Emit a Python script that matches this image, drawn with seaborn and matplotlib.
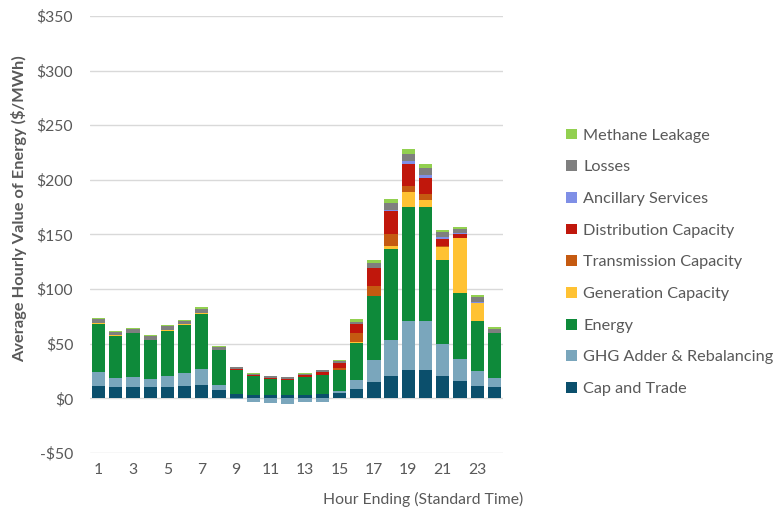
import matplotlib
matplotlib.use("Agg")
import matplotlib.pyplot as plt
import numpy as np
import seaborn as sns
from matplotlib.ticker import FuncFormatter

# Data, $/MWh per hour ending 1..24
hours = [str(h) for h in range(1, 25)]

cap_and_trade = [11, 10, 10, 10, 10.5, 11, 12.5, 8, 4, 3.5, 3, 3, 3.5, 4, 5, 9,
                 15, 20.5, 26, 26, 20, 15.5, 11.5, 10]
ghg_adder = [13, 9, 9.5, 7.5, 10, 12.5, 14.5, 4.5, -1, -3, -4, -5, -3.5, -3, 2, 7.5,
             20.5, 33, 45, 45, 30, 20.5, 13.5, 9]
energy = [44, 38.5, 40, 36, 41.5, 44, 50.5, 31.5, 22, 17, 15, 13.5, 16, 17, 19, 34.5,
          58, 83, 104.5, 104.5, 76.5, 60, 46, 40.5]
generation_cap = [0.5, 0.3, 0.3, 0.3, 0.3, 0.3, 0.5, 0.3, 0, 0, 0, 0, 0, 0, 0, 0.5,
                  0, 2.5, 13.5, 6, 12, 50.5, 16, 0.5]
transmission_cap = [0, 0, 0, 0, 0, 0, 0, 0, 0, 0, 0, 0, 0, 0.5, 2, 8,
                    9.5, 11, 5.5, 5.5, 1, 0.5, 0, 0]
distribution_cap = [0, 0, 0, 0, 0, 0, 0, 0, 0.5, 0.5, 0.5, 1.5, 1.5, 2.5, 4.5, 8.5,
                    16, 21, 20, 14.5, 6, 3.5, 0.5, 0]
ancillary = [0, 0, 0, 0, 0, 0, 0, 0, 0, 0, 0, 0, 0, 0, 0, 0.3,
             0.5, 1, 2.5, 3, 2.5, 0.5, 0.3, 0]
losses = [4, 3, 3.5, 3, 3.5, 3, 4, 3, 2, 1.5, 1.5, 1.5, 1.5, 1.5, 2, 2,
          4, 7, 7, 6.5, 4, 4, 5, 3.5]
methane = [1, 1, 1, 1, 1, 1, 1.5, 1, 0.5, 0.5, 0.3, 0.3, 0.5, 0.5, 1, 2,
           3, 3, 4, 3.5, 2.5, 2, 2, 2]

series = [
    ("Cap and Trade", cap_and_trade, "#0B4F6C"),
    ("GHG Adder & Rebalancing", ghg_adder, "#7AA6BC"),
    ("Energy", energy, "#0E8A3A"),
    ("Generation Capacity", generation_cap, "#FFC233"),
    ("Transmission Capacity", transmission_cap, "#C55A11"),
    ("Distribution Capacity", distribution_cap, "#C0170C"),
    ("Ancillary Services", ancillary, "#7F8FE6"),
    ("Losses", losses, "#7F7F7F"),
    ("Methane Leakage", methane, "#92D050"),
]

sns.set_style("white")
plt.rcParams["font.family"] = ["Lato", "DejaVu Sans"]
text_color = "#595959"

fig = plt.figure(figsize=(7.75, 5.13), dpi=100)
ax = fig.add_axes([0.116, 0.117, 0.533, 0.852])

# stack positives upward and negatives downward
pos_base = np.zeros(len(hours))
neg_base = np.zeros(len(hours))
for name, vals, col in series:
    vals = np.array(vals, dtype=float)
    bottom = np.where(vals >= 0, pos_base, neg_base)
    sns.barplot(x=hours, y=vals, bottom=bottom, color=col, saturation=1,
                width=0.77, linewidth=0, errorbar=None, label=name, ax=ax, zorder=3)
    pos_base += np.clip(vals, 0, None)
    neg_base += np.clip(vals, None, 0)

if ax.get_legend() is not None:
    ax.get_legend().remove()

ax.set_xlim(-0.5, 23.5)
ax.set_ylim(-50, 350)
ax.set_yticks(np.arange(-50, 351, 50))
ax.yaxis.set_major_formatter(FuncFormatter(
    lambda v, p: "-${:.0f}".format(abs(v)) if v < 0 else "${:.0f}".format(v)))
ax.set_xticks(range(0, 24, 2))
ax.set_xticklabels(hours[::2])
ax.grid(axis="y", color="#D9D9D9", linewidth=1, zorder=0)
ax.grid(axis="x", visible=False)
for s in ax.spines.values():
    s.set_visible(False)
ax.tick_params(axis="both", length=0, labelsize=11.3, colors=text_color)
ax.tick_params(axis="y", pad=12)
ax.tick_params(axis="x", pad=7)

ax.set_ylabel("Average Hourly Value of Energy ($/MWh)", fontsize=11.8,
              fontweight="bold", color=text_color)
ax.yaxis.set_label_coords(-0.152, 0.56)
ax.set_xlabel("Hour Ending (Standard Time)", fontsize=11.3, color=text_color)
ax.xaxis.set_label_coords(0.806, -0.088)

handles, labels = ax.get_legend_handles_labels()
leg = fig.legend(handles[::-1], labels[::-1], loc="upper left",
                 bbox_to_anchor=(0.722, 0.762), frameon=False, fontsize=11.7,
                 handlelength=0.65, handleheight=0.65, handletextpad=0.4,
                 labelspacing=1.08, borderaxespad=0)
for t in leg.get_texts():
    t.set_color(text_color)

fig.savefig("out.png", dpi=100)
